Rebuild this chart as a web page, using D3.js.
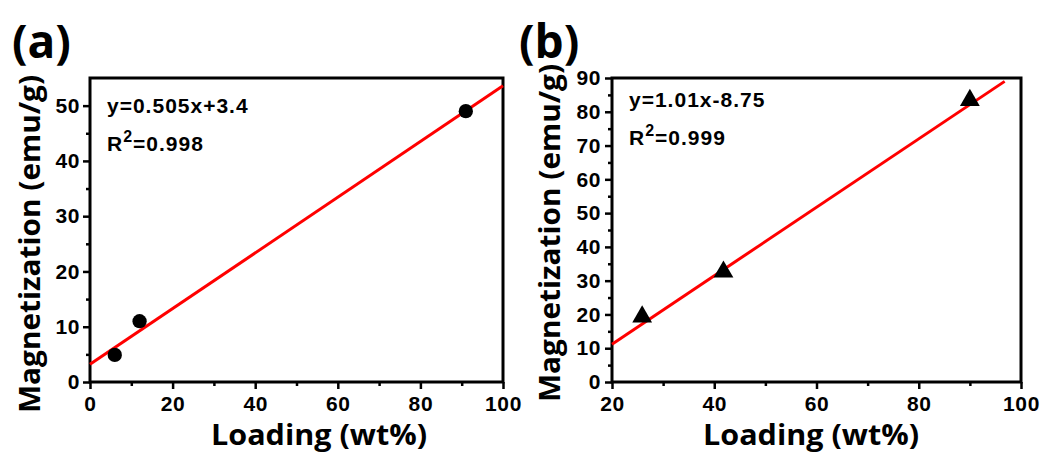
<!DOCTYPE html>
<html>
<head>
<meta charset="utf-8">
<script src="https://cdn.jsdelivr.net/npm/d3@7"></script>
<style>
  body { margin: 0; background: #fff; }
  text { font-family: "Liberation Sans", Arial, sans-serif; font-weight: bold; fill: #000; }
  .title { font-family: "Open Sans", sans-serif; font-weight: bold; }
</style>
</head>
<body>
<div id="chart"></div>
<script>
/* Magnetization vs loading, two panels with linear fits */

// panel (a) data
const loadingA = [6, 12, 91];
const magA = [4.9, 11, 49];
const fitAx = [0, 100];
const fitAy = [3.2, 53.6];
const xTicksA = [0, 20, 40, 60, 80, 100];
const yTicksA = [0, 10, 20, 30, 40, 50];
const eqA = "y=0.505x+3.4";
const r2A = "=0.998";

// panel (b) data
const loadingB = [25.9, 41.8, 90];
const magB = [19.3, 32.6, 83.4];
const fitBx = [20, 96.8];
const fitBy = [11.2, 89];
const xTicksB = [20, 40, 60, 80, 100];
const yTicksB = [0, 10, 20, 30, 40, 50, 60, 70, 80, 90];
const eqB = "y=1.01x-8.75";
const r2B = "=0.999";

const width = 1048, height = 452;

let svg = d3.select("#chart")
            .append("svg")
            .attr("width", width)
            .attr("height", height);

function panel(o) {
    const x = d3.scaleLinear().domain(o.xDomain).range([o.left, o.right]);
    const y = d3.scaleLinear().domain(o.yDomain).range([o.bottom, o.top]);
    const g = svg.append("g");

    // minor ticks
    g.append("g")
        .attr("transform", `translate(0,${o.bottom})`)
        .call(d3.axisBottom(x).tickValues(o.xMinor).tickSize(4).tickFormat(""))
        .call(a => a.select(".domain").remove())
        .selectAll("line").attr("stroke-width", 2.5);
    g.append("g")
        .attr("transform", `translate(${o.left},0)`)
        .call(d3.axisLeft(y).tickValues(o.yMinor).tickSize(4).tickFormat(""))
        .call(a => a.select(".domain").remove())
        .selectAll("line").attr("stroke-width", 2.5);

    // major ticks
    const xa = g.append("g")
        .attr("transform", `translate(0,${o.bottom})`)
        .call(d3.axisBottom(x).tickValues(o.xTicks).tickSize(7).tickPadding(7.5).tickFormat(d3.format("d")));
    xa.select(".domain").remove();
    xa.selectAll("line").attr("stroke-width", 2.5);
    xa.selectAll("text").attr("font-size", 21).attr("font-family", null)
      .style("letter-spacing", "0.6px");

    const ya = g.append("g")
        .attr("transform", `translate(${o.left},0)`)
        .call(d3.axisLeft(y).tickValues(o.yTicks).tickSize(7).tickPadding(o.yPad).tickFormat(d3.format("d")));
    ya.select(".domain").remove();
    ya.selectAll("line").attr("stroke-width", 2.5);
    ya.selectAll("text").attr("font-size", 21).attr("font-family", null)
      .style("letter-spacing", "0.6px");

    // frame
    g.append("rect")
        .attr("x", o.left).attr("y", o.top)
        .attr("width", o.right - o.left).attr("height", o.bottom - o.top)
        .attr("fill", "none").attr("stroke", "#000").attr("stroke-width", 3);

    // fit line
    const fit = o.fitX.map((v, i) => [v, o.fitY[i]]);
    g.append("path")
        .datum(fit)
        .attr("d", d3.line().x(d => x(d[0])).y(d => y(d[1])))
        .attr("stroke", "#f00").attr("stroke-width", 3).attr("fill", "none");

    // points
    const pts = o.px.map((v, i) => [v, o.py[i]]);
    g.selectAll(".pt").data(pts).join("path")
        .attr("transform", d => `translate(${x(d[0])},${y(d[1])})`)
        .attr("d", d3.symbol().type(o.symbol).size(o.symSize))
        .attr("fill", "#000");

    // fit annotation
    g.append("text")
        .attr("x", o.eqX).attr("y", o.eqY)
        .attr("font-size", 21).style("letter-spacing", "1px")
        .text(o.eq);
    const r = g.append("text")
        .attr("x", o.eqX).attr("y", o.eqY + 38)
        .attr("font-size", 21).style("letter-spacing", "1px");
    r.append("tspan").text("R");
    r.append("tspan").attr("dy", -9).attr("font-size", 16).text("2");
    r.append("tspan").attr("dy", 9).text(o.r2);

    // axis titles
    g.append("text").attr("class", "title")
        .attr("x", o.xtX).attr("y", 445)
        .attr("text-anchor", "middle").attr("font-size", 28)
        .attr("textLength", 216).attr("lengthAdjust", "spacingAndGlyphs")
        .text("Loading (wt%)");
    g.append("text").attr("class", "title")
        .attr("transform", `translate(${o.ytX},${o.ytY}) rotate(-90)`)
        .attr("text-anchor", "middle").attr("font-size", 29)
        .attr("textLength", 338).attr("lengthAdjust", "spacingAndGlyphs")
        .text("Magnetization (emu/g)");

    // panel label
    g.append("text").attr("class", "title")
        .attr("x", o.labX).attr("y", 58)
        .attr("font-size", 46)
        .text(o.label);
}

panel({
    xDomain: [0, 100], yDomain: [0, 55],
    left: 90, right: 503, top: 78, bottom: 382,
    xTicks: xTicksA, yTicks: yTicksA,
    xMinor: [10, 30, 50, 70, 90], yMinor: [5, 15, 25, 35, 45],
    yPad: 3,
    fitX: fitAx, fitY: fitAy,
    px: loadingA, py: magA, symbol: d3.symbolCircle, symSize: 160,
    eq: eqA, r2: r2A, eqX: 107, eqY: 113,
    xtX: 319, ytX: 40, ytY: 244,
    label: "(a)", labX: 12
});

panel({
    xDomain: [20, 100], yDomain: [0, 90],
    left: 612, right: 1021, top: 78, bottom: 382,
    xTicks: xTicksB, yTicks: yTicksB,
    xMinor: [30, 50, 70, 90], yMinor: [5, 15, 25, 35, 45, 55, 65, 75, 85],
    yPad: 4,
    fitX: fitBx, fitY: fitBy,
    px: loadingB, py: magB, symbol: d3.symbolTriangle, symSize: 170,
    eq: eqB, r2: r2B, eqX: 629, eqY: 107,
    xtX: 811, ytX: 560, ytY: 233,
    label: "(b)", labX: 519
});
</script>
</body>
</html>
